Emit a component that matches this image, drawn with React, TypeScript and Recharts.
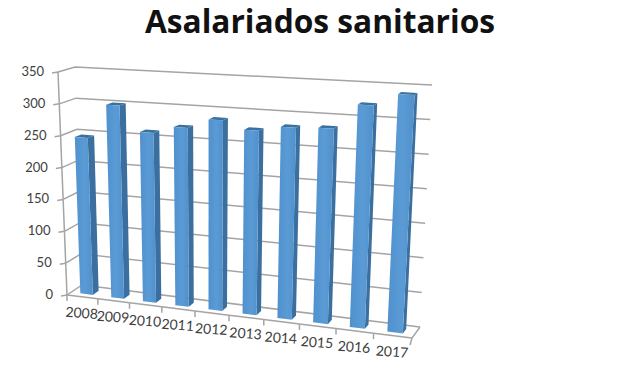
import { BarChart, Bar, XAxis, YAxis, CartesianGrid } from "recharts";

const years = ["2008", "2009", "2010", "2011", "2012", "2013", "2014", "2015", "2016", "2017"];
const asalariados = [246, 300, 261, 272, 287, 275, 283, 285, 322, 340];
const yTicks = [0, 50, 100, 150, 200, 250, 300, 350];

const chartData = years.map((year, i) => ({ year, value: asalariados[i] }));

// plot rectangle recharts works in, later bent onto the fake 3D box
const PLOT = { left: 67, top: 72, width: 345, height: 223 };

// corners of the box on screen: [x, y]
const FRONT = { l0: [67, 295], l1: [58, 72], r0: [412, 338], r1: [425, 90] };
const BACK = { l0: [82, 285], l1: [75, 67], r0: [420, 327], r1: [432, 85] };

// categories get wider towards the right, as in the perspective view
const PERSPECTIVE = 1.13;

const lerp = (a: number, b: number, t: number) => a + (b - a) * t;

function corner(q: typeof FRONT, u: number, v: number, k: 0 | 1) {
  return lerp(lerp(q.l0[k], q.l1[k], v), lerp(q.r0[k], q.r1[k], v), u);
}

// u along categories, v along values, d into the depth (all 0..1)
function project(u: number, v: number, d: number) {
  const w = u / (u + PERSPECTIVE * (1 - u));
  return [
    lerp(corner(FRONT, w, v, 0), corner(BACK, w, v, 0), d),
    lerp(corner(FRONT, w, v, 1), corner(BACK, w, v, 1), d),
  ];
}

const toU = (x: number) => (x - PLOT.left) / PLOT.width;
const toV = (y: number) => (PLOT.top + PLOT.height - y) / PLOT.height;

const pts = (list: number[][]) => list.map((p) => p.join(",")).join(" ");

const LINE = "#a4a4a4";
const TEXT = "#404040";
const FONT = "Lato, sans-serif";

function Bar3D(props: any) {
  const { x, y, width, height } = props;
  const u0 = toU(x);
  const u1 = toU(x + width);
  const v0 = toV(y + height);
  const v1 = toV(y);
  const d0 = 0.28;
  const d1 = 0.68;
  return (
    <g>
      <polygon
        points={pts([project(u1, v0, d0), project(u1, v1, d0), project(u1, v1, d1), project(u1, v0, d1)])}
        fill="#3a6f9f"
      />
      <polygon
        points={pts([project(u0, v1, d0), project(u1, v1, d0), project(u1, v1, d1), project(u0, v1, d1)])}
        fill="#39729f"
      />
      <polygon
        points={pts([project(u0, v0, d0), project(u0, v1, d0), project(u1, v1, d0), project(u1, v0, d0)])}
        fill="url(#barFace)"
      />
    </g>
  );
}

function GridLine(props: any) {
  const v = toV(props.y1);
  const a = project(0, v, 0);
  const b = project(0, v, 1);
  const c = project(1, v, 1);
  return (
    <polyline
      key={props.key ?? props.index}
      points={pts([a, b, c])}
      fill="none"
      stroke={LINE}
      strokeWidth={1.5}
    />
  );
}

function ValueTick(props: any) {
  const v = toV(props.y);
  const a = project(0, v, 0);
  const next = project(0, Math.min(1, v + 50 / 350), 0);
  return (
    <g>
      <line x1={a[0]} y1={a[1]} x2={next[0]} y2={next[1]} stroke={LINE} strokeWidth={1.5} />
      <line x1={a[0]} y1={a[1]} x2={a[0] - 6} y2={a[1] + 1} stroke={LINE} strokeWidth={1.5} />
      <text x={a[0] - 14} y={a[1] + 4} textAnchor="end" fontSize={13} fontFamily={FONT} fill={TEXT}>
        {props.payload.value}
      </text>
    </g>
  );
}

function YearTick(props: any) {
  const step = 1 / years.length;
  const u = toU(props.x);
  const a = project(u - step / 2, 0, 0);
  const b = project(u + step / 2, 0, 0);
  const mid = project(u, 0, 0);
  const isLast = props.index === years.length - 1;
  const lx = mid[0] - 1;
  const ly = mid[1] + 21;
  return (
    <g>
      <line x1={a[0]} y1={a[1]} x2={b[0]} y2={b[1]} stroke={LINE} strokeWidth={1.5} />
      <line x1={a[0]} y1={a[1]} x2={a[0]} y2={a[1] + 6} stroke={LINE} strokeWidth={1.5} />
      {isLast && (
        <polyline
          points={pts([project(1, 0, 1), b, [b[0] - 2, b[1] + 7]])}
          fill="none"
          stroke={LINE}
          strokeWidth={1.5}
        />
      )}
      <text
        x={lx}
        y={ly}
        textAnchor="middle"
        fontSize={14}
        fontFamily={FONT}
        fill={TEXT}
        transform={`rotate(4 ${lx} ${ly})`}
      >
        {props.payload.value}
      </text>
    </g>
  );
}

export default function App() {
  return (
    <div style={{ position: "absolute", left: 0, top: 0, width: 620, height: 368, background: "#fff" }}>
      <div
        style={{
          position: "absolute",
          left: 0,
          top: 0,
          width: 640,
          textAlign: "center",
          fontFamily: "'Open Sans', sans-serif",
          fontWeight: 700,
          fontSize: 31.7,
          lineHeight: "42px",
          color: "#111",
        }}
      >
        Asalariados sanitarios
      </div>
      <BarChart
        width={620}
        height={368}
        data={chartData}
        barCategoryGap="30%"
        margin={{
          left: PLOT.left - 10,
          top: PLOT.top,
          right: 620 - PLOT.left - PLOT.width,
          bottom: 368 - PLOT.top - PLOT.height - 10,
        }}
      >
        <defs>
          <linearGradient id="barFace" x1="0" y1="0" x2="1" y2="0">
            <stop offset="0%" stopColor="#4f91cf" />
            <stop offset="55%" stopColor="#5b9bd5" />
            <stop offset="100%" stopColor="#5090cb" />
          </linearGradient>
        </defs>
        <CartesianGrid vertical={false} horizontal={GridLine} />
        <XAxis dataKey="year" height={10} axisLine={false} tickLine={false} tick={YearTick} interval={0} />
        <YAxis
          domain={[0, 350]}
          ticks={yTicks}
          width={10}
          axisLine={false}
          tickLine={false}
          tick={ValueTick}
          interval={0}
        />
        <Bar dataKey="value" shape={Bar3D} isAnimationActive={false} />
      </BarChart>
    </div>
  );
}
